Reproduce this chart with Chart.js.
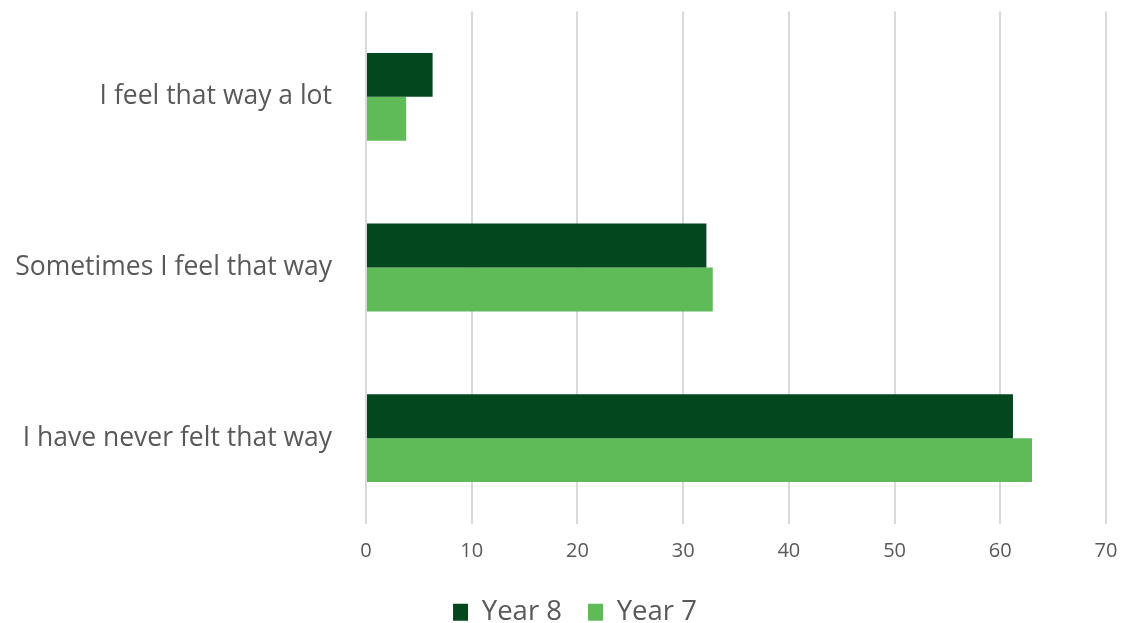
<!DOCTYPE html>
<html><head><meta charset="utf-8">
<script src="https://cdn.jsdelivr.net/npm/chart.js@4"></script>
<style>html,body{margin:0;padding:0;background:#fff}#wrap{width:1123px;height:623px;position:relative}</style>
</head><body><div id="wrap"><canvas id="c" width="1123" height="623"></canvas></div>
<script>
const categories = ["I feel that way a lot", "Sometimes I feel that way", "I have never felt that way"];
const year8 = [6.3, 32.2, 61.2];
const year7 = [3.8, 32.8, 63.0];
const xTicks = [0, 10, 20, 30, 40, 50, 60, 70];

const shiftLegend = {
  id: 'shiftLegend',
  afterLayout(chart) {
    const l = chart.legend;
    l.left += 22; l.right += 22;
    l.top += 3; l.bottom += 3;
  }
};

new Chart(document.getElementById('c'), {
  type: 'bar',
  data: {
    labels: categories,
    datasets: [
      {label: 'Year 8', data: year8, backgroundColor: '#03471E', borderWidth: 0},
      {label: 'Year 7', data: year7, backgroundColor: '#5EBB58', borderWidth: 0}
    ]
  },
  plugins: [shiftLegend],
  options: {
    indexAxis: 'y',
    responsive: false,
    animation: false,
    datasets: {bar: {barPercentage: 1, categoryPercentage: 0.515}},
    layout: {padding: {top: 11.5, right: 17, left: 0, bottom: -10}},
    plugins: {
      legend: {
        position: 'bottom',
        labels: {
          font: {family: 'Open Sans', size: 27.5},
          color: '#595959',
          boxWidth: 15, boxHeight: 17, padding: 26
        }
      },
      tooltip: {enabled: false}
    },
    scales: {
      x: {
        min: 0, max: 70,
        afterBuildTicks: s => { s.ticks = xTicks.map(v => ({value: v})); },
        grid: {color: '#d9d9d9', lineWidth: 2, drawTicks: false},
        border: {display: false},
        ticks: {font: {family: 'Open Sans', size: 20}, color: '#595959', padding: 15.5},
        afterFit: s => { s.height = 46; s.paddingLeft = 0; s.paddingRight = 0; }
      },
      y: {
        grid: {display: false},
        border: {display: false},
        ticks: {font: {family: 'Open Sans', size: 26.5}, color: '#595959', padding: 26},
        afterFit: s => { s.width = 366; s.paddingTop = 0; s.paddingBottom = 0; }
      }
    }
  }
});
</script></body></html>
